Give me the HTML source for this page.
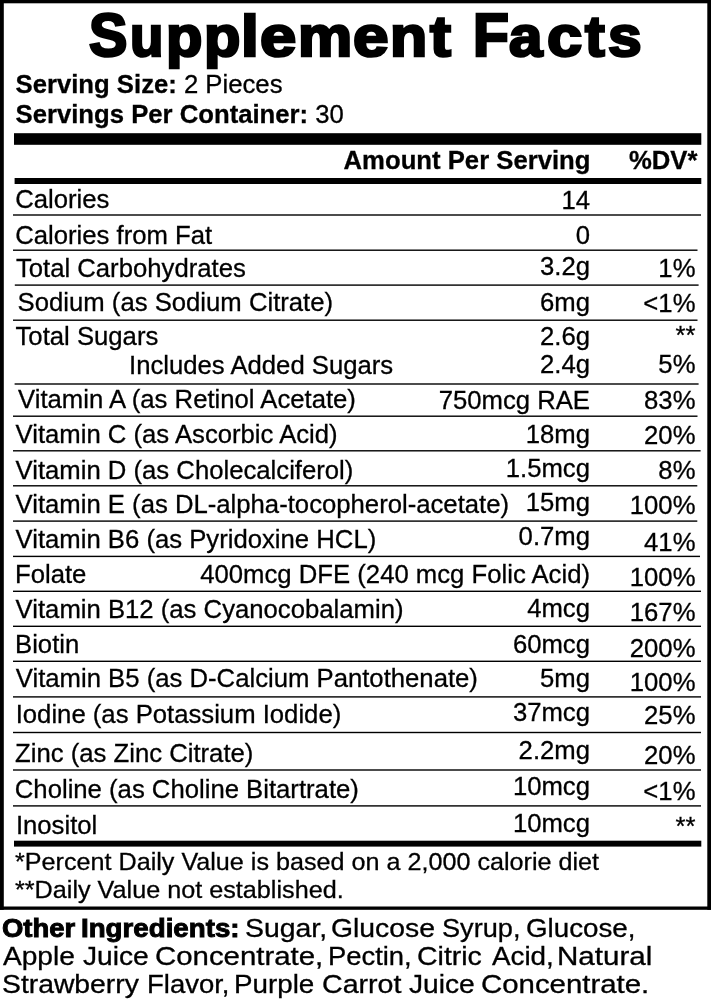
<!DOCTYPE html>
<html><head><meta charset="utf-8"><title>Supplement Facts</title>
<style>
html,body{margin:0;padding:0;background:#fff;}
body{width:711px;height:1000px;position:relative;overflow:hidden;font-family:"Liberation Sans",sans-serif;color:#000;}
.box{position:absolute;left:0;top:0;width:711px;height:910px;box-sizing:border-box;border:solid #000;border-width:3px 4px 4px 4px;}
.t{position:absolute;white-space:nowrap;line-height:1;}
.r{font-size:25.7px;line-height:25.7px;-webkit-text-stroke:0.3px #000;}
.x{transform-origin:0 0;}
.bar{position:absolute;background:#000;}
.ln{position:absolute;background:#000;height:1.5px;left:13.2px;}
b{font-weight:700;}
#wrap{position:absolute;left:0;top:0;width:711px;height:1000px;will-change:transform;}
#title{position:absolute;left:0;width:711px;height:62px;font-size:62px;line-height:62px;font-weight:700;-webkit-text-stroke:2.8px #000;}
#title span{position:absolute;top:0;display:block;transform-origin:0 51px;white-space:pre;}
</style></head><body>
<div id="wrap">

<svg id="rules" width="711" height="1000" viewBox="0 0 711 1000" style="position:absolute;left:0;top:0" fill="#000"><rect x="0.00" y="0.00" width="711.00" height="3.30"/><rect x="0.00" y="0.00" width="3.80" height="909.80"/><rect x="707.30" y="0.00" width="3.70" height="909.80"/><rect x="0.00" y="906.50" width="711.00" height="3.30"/><rect x="14.00" y="133.20" width="687.30" height="11.60"/><rect x="14.60" y="178.00" width="686.70" height="6.00"/><rect x="13.00" y="214.30" width="688.00" height="1.40"/><rect x="13.00" y="249.50" width="684.50" height="1.40"/><rect x="14.80" y="284.40" width="683.80" height="1.40"/><rect x="13.00" y="319.50" width="684.50" height="1.40"/><rect x="14.60" y="383.30" width="684.00" height="1.40"/><rect x="13.00" y="415.50" width="684.50" height="1.40"/><rect x="13.00" y="450.10" width="687.60" height="1.40"/><rect x="13.00" y="485.10" width="684.30" height="1.40"/><rect x="13.00" y="520.40" width="684.30" height="1.40"/><rect x="13.00" y="555.70" width="687.00" height="1.40"/><rect x="13.00" y="590.60" width="688.00" height="1.40"/><rect x="13.00" y="625.60" width="688.00" height="1.40"/><rect x="13.00" y="660.60" width="688.00" height="1.40"/><rect x="13.00" y="696.20" width="688.00" height="1.40"/><rect x="13.00" y="731.80" width="688.00" height="1.40"/><rect x="13.00" y="769.30" width="688.00" height="1.40"/><rect x="13.00" y="805.20" width="688.00" height="1.40"/><rect x="14.00" y="840.70" width="687.30" height="5.90"/></svg>
<div id="title" style="top:3.5px"><span style="left:89.1px;transform:scale(0.928,0.973)">S</span><span style="left:130.1px;transform:scale(0.882,0.925)">u</span><span style="left:165.6px;transform:scale(0.961,0.925)">p</span><span style="left:204.0px;transform:scale(0.961,0.925)">p</span><span style="left:240.8px;transform:scale(1.031,0.925)">l</span><span style="left:259.7px;transform:scale(1.053,0.925)">e</span><span style="left:297.5px;transform:scale(0.983,0.925)">m</span><span style="left:353.0px;transform:scale(1.032,0.925)">e</span><span style="left:389.9px;transform:scale(0.982,0.925)">n</span><span style="left:429.8px;transform:scale(1.014,0.925)">t</span><span style="left:472.5px;transform:scale(0.946,0.973)">F</span><span style="left:508.8px;transform:scale(0.971,0.925)">a</span><span style="left:546.7px;transform:scale(1.020,0.925)">c</span><span style="left:585.4px;transform:scale(0.955,0.925)">t</span><span style="left:607.9px;transform:scale(0.977,0.925)">s</span></div>
<div class="t r" id="ss" style="left:15.5px;top:72px;"><b>Serving Size:</b> 2 Pieces</div>
<div class="t r" id="spc" style="left:15.5px;top:102px;"><b>Servings Per Container:</b> 30</div>
<div class="t r" id="aps" style="right:120.5px;top:148px;font-weight:700;">Amount Per Serving</div>
<div class="t r" id="dvh" style="right:13.5px;top:148px;font-weight:700;">%DV*</div>
<div class="t r" id="l0" style="left:15.2px;top:187px;">Calories</div>
<div class="t r" id="a0" style="right:121.0px;top:188px;">14</div>
<div class="t r" id="l1" style="left:15.2px;top:223px;">Calories from Fat</div>
<div class="t r" id="a1" style="right:121.0px;top:223px;">0</div>
<div class="t r" id="l2" style="left:15.9px;top:256px;">Total Carbohydrates</div>
<div class="t r" id="a2" style="right:121.0px;top:254px;">3.2g</div>
<div class="t r" id="d2" style="right:15.5px;top:256px;">1%</div>
<div class="t r" id="l3" style="left:17.6px;top:290px;">Sodium (as Sodium Citrate)</div>
<div class="t r" id="a3" style="right:121.0px;top:290px;">6mg</div>
<div class="t r" id="d3" style="right:15.5px;top:291px;">&lt;1%</div>
<div class="t r" id="l4" style="left:15.5px;top:324px;">Total Sugars</div>
<div class="t r" id="a4" style="right:121.0px;top:324px;">2.6g</div>
<div class="t r" id="d4" style="right:15.5px;top:323px;">**</div>
<div class="t r" id="l5" style="left:129px;top:353px;">Includes Added Sugars</div>
<div class="t r" id="a5" style="right:121.0px;top:352px;">2.4g</div>
<div class="t r" id="d5" style="right:15.5px;top:352px;">5%</div>
<div class="t r" id="l6" style="left:18px;top:387px;">Vitamin A (as Retinol Acetate)</div>
<div class="t r" id="a6" style="right:121.0px;top:388px;">750mcg RAE</div>
<div class="t r" id="d6" style="right:15.5px;top:388px;">83%</div>
<div class="t r" id="l7" style="left:15.5px;top:422px;">Vitamin C (as Ascorbic Acid)</div>
<div class="t r" id="a7" style="right:121.0px;top:422px;">18mg</div>
<div class="t r" id="d7" style="right:15.5px;top:423px;">20%</div>
<div class="t r" id="l8" style="left:15.5px;top:458px;">Vitamin D (as Cholecalciferol)</div>
<div class="t r" id="a8" style="right:121.0px;top:456px;">1.5mcg</div>
<div class="t r" id="d8" style="right:15.5px;top:458px;">8%</div>
<div class="t r" id="l9" style="left:15.5px;top:492px;">Vitamin E (as DL-alpha-tocopherol-acetate)</div>
<div class="t r" id="a9" style="right:121.0px;top:490px;">15mg</div>
<div class="t r" id="d9" style="right:15.5px;top:493px;">100%</div>
<div class="t r" id="l10" style="left:15.5px;top:527px;">Vitamin B6 (as Pyridoxine HCL)</div>
<div class="t r" id="a10" style="right:121.0px;top:524px;">0.7mg</div>
<div class="t r" id="d10" style="right:15.5px;top:530px;">41%</div>
<div class="t r" id="l11" style="left:15px;top:562px;">Folate</div>
<div class="t r" id="a11" style="right:121.0px;top:562px;">400mcg DFE (240 mcg Folic Acid)</div>
<div class="t r" id="d11" style="right:15.5px;top:565px;">100%</div>
<div class="t r" id="l12" style="left:15.6px;top:597px;">Vitamin B12 (as Cyanocobalamin)</div>
<div class="t r" id="a12" style="right:121.0px;top:596px;">4mcg</div>
<div class="t r" id="d12" style="right:15.5px;top:600px;">167%</div>
<div class="t r" id="l13" style="left:15px;top:632px;">Biotin</div>
<div class="t r" id="a13" style="right:121.0px;top:632px;">60mcg</div>
<div class="t r" id="d13" style="right:15.5px;top:636px;">200%</div>
<div class="t r" id="l14" style="left:15.8px;top:666px;">Vitamin B5 (as D-Calcium Pantothenate)</div>
<div class="t r" id="a14" style="right:121.0px;top:666px;">5mg</div>
<div class="t r" id="d14" style="right:15.5px;top:670px;">100%</div>
<div class="t r" id="l15" style="left:15.7px;top:702px;">Iodine (as Potassium Iodide)</div>
<div class="t r" id="a15" style="right:121.0px;top:700px;">37mcg</div>
<div class="t r" id="d15" style="right:15.5px;top:703px;">25%</div>
<div class="t r" id="l16" style="left:15px;top:741px;">Zinc (as Zinc Citrate)</div>
<div class="t r" id="a16" style="right:121.0px;top:738px;">2.2mg</div>
<div class="t r" id="d16" style="right:15.5px;top:743px;">20%</div>
<div class="t r" id="l17" style="left:14.8px;top:777px;">Choline (as Choline Bitartrate)</div>
<div class="t r" id="a17" style="right:121.0px;top:774px;">10mcg</div>
<div class="t r" id="d17" style="right:15.5px;top:779px;">&lt;1%</div>
<div class="t r" id="l18" style="left:15.9px;top:813px;">Inositol</div>
<div class="t r" id="a18" style="right:121.0px;top:811px;">10mcg</div>
<div class="t r" id="d18" style="right:15.5px;top:814px;">**</div>
<div class="t x" id="f1" style="left:14.89px;top:850px;font-size:24.6px;line-height:24.6px;-webkit-text-stroke:0.3px #000;transform:scaleX(1.0229);">*Percent Daily Value is based on a 2,000 calorie diet</div>
<div class="t x" id="f2" style="left:14.89px;top:878px;font-size:24.6px;line-height:24.6px;-webkit-text-stroke:0.3px #000;transform:scaleX(1.0245);">**Daily Value not established.</div>
<div class="t x" id="w0" style="left:1.95px;top:916px;font-size:25px;line-height:25px;font-weight:700;-webkit-text-stroke:0.9px #000;transform:scaleX(1.0974);">Other</div>
<div class="t x" id="w1" style="left:81.18px;top:916px;font-size:25px;line-height:25px;font-weight:700;-webkit-text-stroke:0.9px #000;transform:scaleX(1.1079);">Ingredients:</div>
<div class="t x" id="w2" style="left:245.36px;top:916px;font-size:25px;line-height:25px;-webkit-text-stroke:0.3px #000;transform:scaleX(1.1365);">Sugar,</div>
<div class="t x" id="w3" style="left:331.44px;top:916px;font-size:25px;line-height:25px;-webkit-text-stroke:0.3px #000;transform:scaleX(1.1341);">Glucose</div>
<div class="t x" id="w4" style="left:442.06px;top:916px;font-size:25px;line-height:25px;-webkit-text-stroke:0.3px #000;transform:scaleX(1.0855);">Syrup,</div>
<div class="t x" id="w5" style="left:525.89px;top:916px;font-size:25px;line-height:25px;-webkit-text-stroke:0.3px #000;transform:scaleX(1.1099);">Glucose,</div>
<div class="t x" id="w6" style="left:2.86px;top:944px;font-size:25px;line-height:25px;-webkit-text-stroke:0.3px #000;transform:scaleX(1.1238);">Apple</div>
<div class="t x" id="w7" style="left:83.07px;top:944px;font-size:25px;line-height:25px;-webkit-text-stroke:0.3px #000;transform:scaleX(1.1266);">Juice</div>
<div class="t x" id="w8" style="left:155.03px;top:944px;font-size:25px;line-height:25px;-webkit-text-stroke:0.3px #000;transform:scaleX(1.1757);">Concentrate,</div>
<div class="t x" id="w9" style="left:327.52px;top:944px;font-size:25px;line-height:25px;-webkit-text-stroke:0.3px #000;transform:scaleX(1.0952);">Pectin,</div>
<div class="t x" id="w10" style="left:417.08px;top:944px;font-size:25px;line-height:25px;-webkit-text-stroke:0.3px #000;transform:scaleX(1.1385);">Citric</div>
<div class="t x" id="w11" style="left:491.50px;top:944px;font-size:25px;line-height:25px;-webkit-text-stroke:0.3px #000;transform:scaleX(1.1121);">Acid,</div>
<div class="t x" id="w12" style="left:556.63px;top:944px;font-size:25px;line-height:25px;-webkit-text-stroke:0.3px #000;transform:scaleX(1.1831);">Natural</div>
<div class="t x" id="w13" style="left:2.08px;top:972px;font-size:25px;line-height:25px;-webkit-text-stroke:0.3px #000;transform:scaleX(1.1325);">Strawberry</div>
<div class="t x" id="w14" style="left:146.80px;top:972px;font-size:25px;line-height:25px;-webkit-text-stroke:0.3px #000;transform:scaleX(1.0986);">Flavor,</div>
<div class="t x" id="w15" style="left:233.70px;top:972px;font-size:25px;line-height:25px;-webkit-text-stroke:0.3px #000;transform:scaleX(1.1108);">Purple</div>
<div class="t x" id="w16" style="left:321.50px;top:972px;font-size:25px;line-height:25px;-webkit-text-stroke:0.3px #000;transform:scaleX(1.1443);">Carrot</div>
<div class="t x" id="w17" style="left:408.72px;top:972px;font-size:25px;line-height:25px;-webkit-text-stroke:0.3px #000;transform:scaleX(1.1266);">Juice</div>
<div class="t x" id="w18" style="left:481.47px;top:972px;font-size:25px;line-height:25px;-webkit-text-stroke:0.3px #000;transform:scaleX(1.1757);">Concentrate.</div>
</div>
</body></html>
